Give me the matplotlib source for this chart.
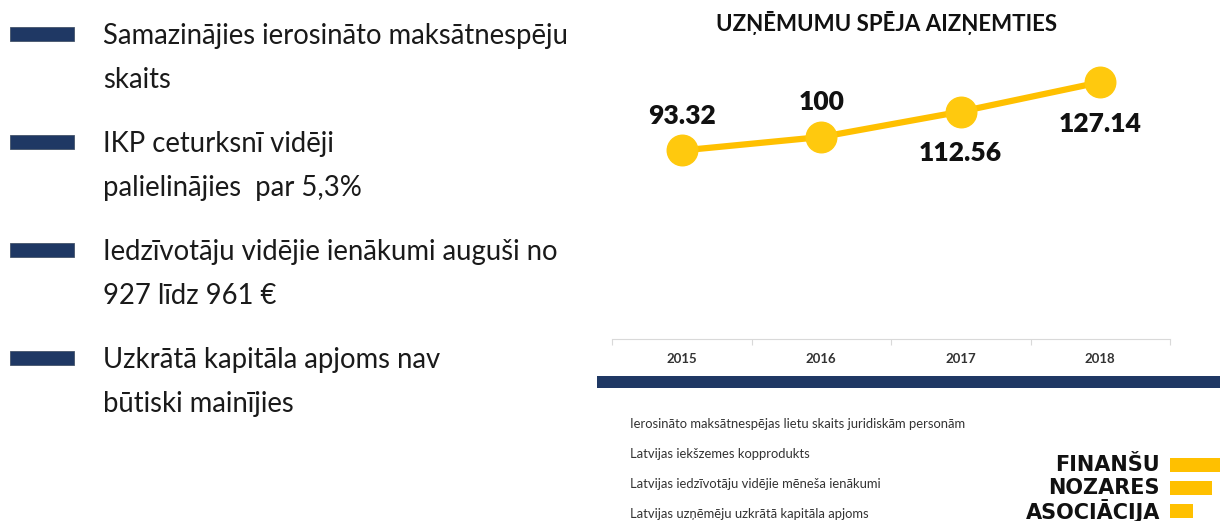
import matplotlib.pyplot as plt
from matplotlib.patches import Rectangle

# Dati
years = ['2015', '2016', '2017', '2018']
values = [93.32, 100, 112.56, 127.14]
label_side = ['above', 'above', 'below', 'below']

bullets = [
    ['Samazinājies ierosināto maksātnespēju', 'skaits'],
    ['IKP ceturksnī vidēji', 'palielinājies  par 5,3%'],
    ['Iedzīvotāju vidējie ienākumi auguši no', '927 līdz 961 €'],
    ['Uzkrātā kapitāla apjoms nav', 'būtiski mainījies'],
]
notes = [
    'Ierosināto maksātnespējas lietu skaits juridiskām personām',
    'Latvijas iekšzemes kopprodukts',
    'Latvijas iedzīvotāju vidējie mēneša ienākumi',
    'Latvijas uzņēmēju uzkrātā kapitāla apjoms',
]
logo_lines = ['FINANŠU', 'NOZARES', 'ASOCIĀCIJA']

W, H = 1220, 521
navy = '#1f3864'
gold = '#ffc000'

plt.rcParams['font.family'] = ['Lato', 'DejaVu Sans']

fig = plt.figure(figsize=(W / 100, H / 100), dpi=100)
fig.patch.set_facecolor('white')

# fona slānis pikseļos
bg = fig.add_axes([0, 0, 1, 1])
bg.set_xlim(0, W)
bg.set_ylim(H, 0)
bg.axis('off')

# kreisās puses punkti
for i, lines in enumerate(bullets):
    top = 27 + i * 108
    bg.add_patch(Rectangle((10, top), 64, 14, facecolor=navy, edgecolor='#44546a', lw=0.6))
    for j, line in enumerate(lines):
        bg.text(103, top + 17 + j * 44, line, fontsize=19.8, color='#1a1a1a', va='baseline')

# nosaukums
bg.text(887, 31, 'UZŅĒMUMU SPĒJA AIZŅEMTIES', fontsize=16, fontweight='bold',
        color='#111111', ha='center', va='baseline')

# tumši zilā josla
bg.add_patch(Rectangle((597, 376), W - 597, 12, facecolor=navy, edgecolor='none'))

# paskaidrojumi
for i, n in enumerate(notes):
    bg.text(630, 424 + i * 30, n, fontsize=9.4, color='#333333', va='center')

# logo
bar_w = [50, 42, 23]
for i, t in enumerate(logo_lines):
    yc = 465 + i * 23
    bg.text(1160, yc, t, fontsize=15, fontweight='bold', color='#111111',
            ha='right', va='center', family='DejaVu Sans')
    bg.add_patch(Rectangle((1170, yc - 7), bar_w[i], 14, facecolor=gold, edgecolor='none'))

# līniju diagramma
x0, x1, y_axis = 612, 1170, 339
ymax = 140
px_per_unit = 2.02
top_px = y_axis - ymax * px_per_unit
ax = fig.add_axes([x0 / W, (H - y_axis) / H, (x1 - x0) / W, (y_axis - top_px) / H])
ax.set_facecolor('none')
xs = [i + 0.5 for i in range(len(years))]
ax.plot(xs, values, color=gold, lw=4.5, marker='o', ms=22, mfc='#ffc90e', mec='#ffc90e',
        solid_capstyle='round', zorder=3)
for xv, v, side in zip(xs, values, label_side):
    off = 25 if side == 'above' else -30
    ax.annotate(f'{v:g}', (xv, v), xytext=(0, off), textcoords='offset points',
                ha='center', va='center', fontsize=19, fontweight='heavy', color='#111111')
ax.set_xlim(0, len(years))
ax.set_ylim(0, ymax)
ax.set_yticks([])
ax.set_xticks(range(len(years) + 1))
ax.set_xticklabels([])
ax.set_xticks(xs, minor=True)
ax.set_xticklabels(years, minor=True, fontsize=9.5, fontweight='bold', color='#333333')
ax.tick_params(axis='x', which='minor', length=0, pad=10)
ax.tick_params(axis='x', which='major', length=4, color='#d9d9d9', width=0.8)
for s in ['top', 'right', 'left']:
    ax.spines[s].set_visible(False)
ax.spines['bottom'].set_color('#d9d9d9')
ax.spines['bottom'].set_linewidth(0.8)

fig.savefig('out.png', dpi=100, facecolor='white')
